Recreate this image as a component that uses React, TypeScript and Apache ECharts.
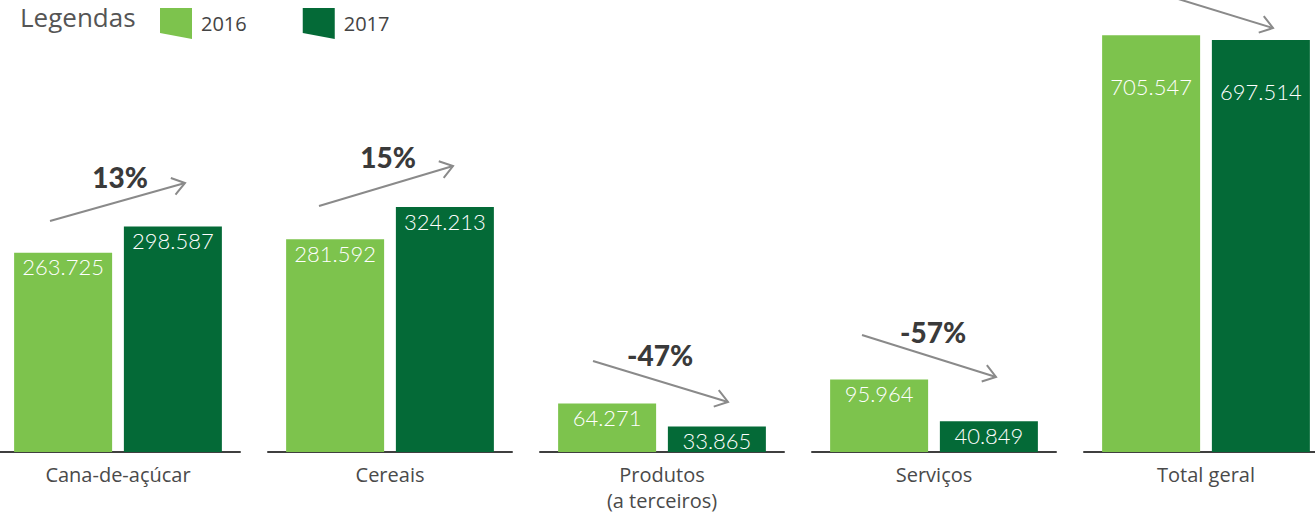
import React, { useEffect, useRef } from "react";
import * as echarts from "echarts";

const categories = ["Cana-de-açúcar", "Cereais", "Produtos\n(a terceiros)", "Serviços", "Total geral"];
const seriesNames = ["2016", "2017"];
const values2016 = [263.725, 281.592, 64.271, 95.964, 705.547];
const values2017 = [298.587, 324.213, 33.865, 40.849, 697.514];
const changeLabels = ["13%", "15%", "-47%", "-57%"];
const axisMax = [552, 552, 552, 552, 706];

const LIGHT = "#7dc34d";
const DARK = "#046a37";
const ARROW = "#8a8a8a";
const TEXT = "#4a4a4a";
// the chart canvas is wider than the visible window so the outer groups are not squeezed
const OFFSET = 20;

// annotation layout: [x1, y1, x2, y2, textX, textY]
const arrowLayout = [
  [50, 221, 185, 183, 120, 177],
  [319, 206, 453, 166, 388, 157],
  [593, 361, 728, 402, 660, 355],
  [862, 335, 996, 377, 933, 332],
  [1175, -2, 1273, 28, 0, 0],
];

function arrow(x1: number, y1: number, x2: number, y2: number) {
  const ang = Math.atan2(y2 - y1, x2 - x1);
  const len = 15;
  const spread = (35 * Math.PI) / 180;
  const a1 = ang + Math.PI - spread;
  const a2 = ang + Math.PI + spread;
  return [
    {
      type: "line",
      silent: true,
      shape: { x1, y1, x2, y2 },
      style: { stroke: ARROW, lineWidth: 2 },
    },
    {
      type: "polyline",
      silent: true,
      shape: {
        points: [
          [x2 + len * Math.cos(a1), y2 + len * Math.sin(a1)],
          [x2, y2],
          [x2 + len * Math.cos(a2), y2 + len * Math.sin(a2)],
        ],
      },
      style: { stroke: ARROW, lineWidth: 2, fill: "none" },
    },
  ];
}

export default function App() {
  const ref = useRef<HTMLDivElement>(null);
  useEffect(() => {
    document.body.style.margin = "0";
    const chart = echarts.init(ref.current!, null, { renderer: "svg" });
    const grids = categories.map((_, i) => ({
      left: OFFSET - 4 + 272 * i,
      width: 244,
      top: 35,
      bottom: 62,
      containLabel: false,
    }));
    const xAxes = categories.map((c, i) => ({
      type: "category",
      gridIndex: i,
      data: [c],
      axisTick: { show: false },
      axisLine: { lineStyle: { color: "#3f3f3f", width: 2 } },
      axisLabel: {
        color: TEXT,
        fontSize: 20,
        fontFamily: "Open Sans",
        margin: 9,
        lineHeight: 26,
      },
    }));
    const yAxes = categories.map((_, i) => ({
      type: "value",
      gridIndex: i,
      min: 0,
      max: axisMax[i],
      show: false,
    }));
    const series: any[] = [];
    categories.forEach((_, i) => {
      [values2016, values2017].forEach((vals, s) => {
        series.push({
          type: "bar",
          name: seriesNames[s],
          xAxisIndex: i,
          yAxisIndex: i,
          data: [vals[i]],
          barWidth: 98,
          barGap: "12%",
          itemStyle: { color: s === 0 ? LIGHT : DARK },
          label: {
            show: true,
            position: "insideTop",
            distance: i === 4 ? 40 : 3,
            color: "#ffffff",
            fontSize: 22,
            fontFamily: "Lato",
            fontWeight: 300,
            formatter: (p: any) => Number(p.value).toFixed(3),
          },
        });
      });
    });
    const children: any[] = [];
    arrowLayout.forEach((a, i) => {
      children.push(...arrow(a[0], a[1], a[2], a[3]));
      if (changeLabels[i]) {
        children.push({
          type: "text",
          silent: true,
          x: a[4],
          y: a[5],
          style: {
            text: changeLabels[i],
            fill: "#3a3a3a",
            font: "900 28px Lato",
            textAlign: "center",
            textVerticalAlign: "middle",
          },
        });
      }
    });
    chart.setOption({
      animation: false,
      title: {
        text: "Legendas",
        left: OFFSET + 20,
        top: 4,
        padding: 0,
        textStyle: { color: "#555555", fontSize: 26, fontWeight: "normal", fontFamily: "Open Sans" },
      },
      legend: {
        data: seriesNames,
        left: OFFSET + 160,
        top: 8,
        padding: 0,
        itemWidth: 32,
        itemHeight: 31,
        itemGap: 56,
        icon: "path://M0,0 L32,0 L32,31 L0,25 Z",
        selectedMode: false,
        textStyle: { color: "#444444", fontSize: 20, fontFamily: "Open Sans", padding: [8, 0, 0, 4] },
      },
      grid: grids,
      xAxis: xAxes,
      yAxis: yAxes,
      series,
      graphic: [{ type: "group", x: OFFSET, y: 0, children }],
    });
    return () => chart.dispose();
  }, []);
  return (
    <div style={{ position: "relative", width: 1315, height: 514, overflow: "hidden" }}>
      <div ref={ref} style={{ position: "absolute", left: -OFFSET, top: 0, width: 1315 + 2 * OFFSET, height: 514 }} />
    </div>
  );
}
